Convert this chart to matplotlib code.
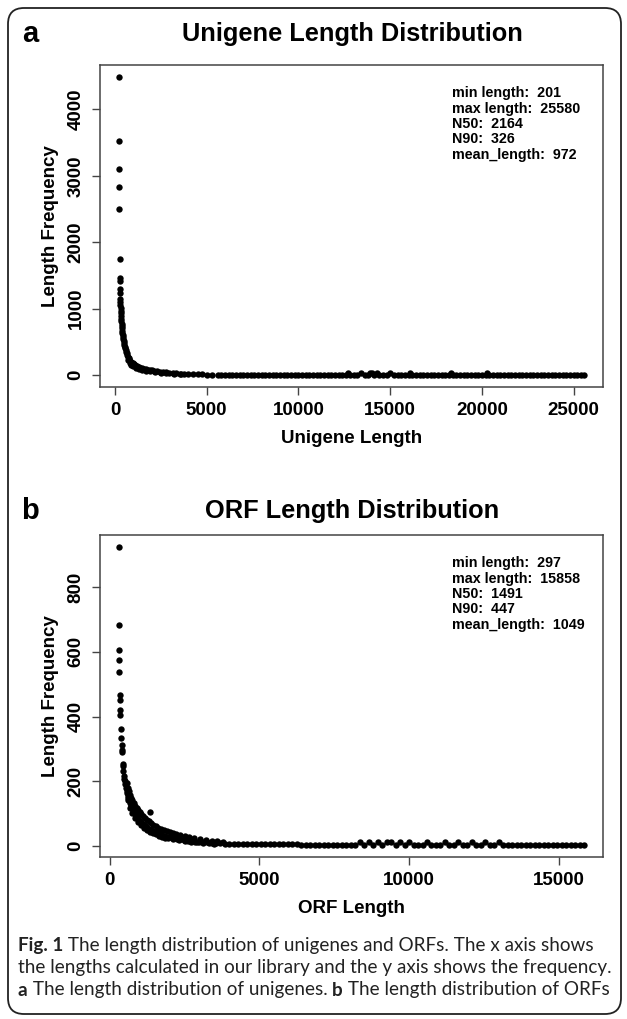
import matplotlib
matplotlib.use("Agg")
import matplotlib.pyplot as plt
from matplotlib.patches import FancyBboxPatch

plt.rcParams['font.family'] = ['Liberation Sans', 'DejaVu Sans']

# ---- panel a: unigene lengths (length, frequency)
uni_head_len = [201, 210, 218, 225, 232, 250, 262, 266, 272, 278,
                285, 292, 300, 308, 316, 324, 332, 340, 350, 360,
                370, 382, 395, 410, 425, 440, 458, 476, 495, 515,
                535, 558, 582, 608, 635, 665, 700, 740, 780, 825,
                870, 920, 975, 1030, 1090, 1150, 1220, 1300, 1390, 1480,
                1580, 1680, 1790, 1900, 2020, 2150, 2290, 2440, 2600, 2770,
                2950, 3140, 3340, 3550, 3770, 4000, 4250, 4500, 4750, 5000, 5300]
uni_head_freq = [4490, 3530, 3100, 2830, 2500, 1750, 1460, 1420, 1300, 1230,
                 1150, 1100, 1060, 1010, 970, 930, 890, 850, 810, 775,
                 740, 705, 670, 635, 600, 570, 540, 510, 480, 455,
                 430, 405, 380, 355, 330, 305, 280, 258, 238, 220,
                 204, 190, 176, 164, 152, 142, 132, 122, 113, 104,
                 96, 89, 82, 76, 70, 63, 57, 51, 46, 41,
                 36, 32, 28, 24, 21, 18, 15, 13, 11, 9, 8]
uni_band_len = [700, 800, 900, 1000, 1150, 1300, 1500, 1700, 1900, 2200, 2500, 2800, 3200, 3600]
uni_band_freq = [230, 190, 160, 135, 110, 95, 80, 65, 55, 42, 35, 28, 22, 16]
uni_tail_len = [5600, 5800, 6000, 6200, 6400, 6600, 6800, 7000, 7200, 7400,
                7600, 7800, 8000, 8200, 8400, 8600, 8800, 9000, 9200, 9400,
                9600, 9800, 10000, 10200, 10400, 10600, 10800, 11000, 11200, 11400,
                11600, 11800, 12000, 12200, 12400, 12600, 12700, 12800, 13000, 13200,
                13400, 13600, 13800, 13900, 14000, 14100, 14300, 14400, 14600, 14800,
                15000, 15200, 15400, 15600, 15800, 16000, 16100, 16200, 16400, 16600,
                16800, 17000, 17200, 17400, 17600, 17800, 18000, 18200, 18300, 18400,
                18600, 18800, 19000, 19200, 19400, 19600, 19800, 20000, 20200, 20300,
                20400, 20600, 20800, 21000, 21200, 21400, 21600, 21800, 22000, 22200,
                22400, 22600, 22800, 23000, 23200, 23400, 23600, 23800, 24000, 24200,
                24400, 24600, 24800, 25000, 25200, 25400, 25580]
uni_tail_freq = [7, 7, 6, 6, 6, 5, 5, 5, 5, 4,
                 4, 4, 4, 4, 4, 3, 3, 3, 3, 3,
                 3, 3, 3, 3, 3, 3, 3, 3, 2, 2,
                 2, 2, 2, 2, 2, 2, 25, 2, 2, 2,
                 30, 2, 2, 35, 30, 2, 38, 2, 2, 2,
                 25, 2, 2, 2, 2, 2, 28, 2, 2, 2,
                 2, 2, 2, 2, 2, 2, 2, 2, 30, 2,
                 2, 2, 2, 2, 1, 1, 1, 1, 1, 30,
                 1, 1, 1, 1, 1, 1, 1, 1, 1, 1,
                 1, 1, 1, 1, 1, 1, 1, 1, 1, 1,
                 1, 1, 1, 1, 1, 1, 1]
uni_stats = ['min length:  201', 'max length:  25580', 'N50:  2164', 'N90:  326',
             'mean_length:  972']

# ---- panel b: ORF lengths (length, frequency)
orf_head_len = [297, 300, 308, 314, 320, 335, 340, 352, 358, 372,
                385, 398, 405, 420, 430, 440, 455, 470, 485, 500,
                520, 540, 560, 580, 600, 625, 650, 680, 710, 740,
                770, 800, 840, 880, 920, 960, 1000, 1050, 1100, 1150,
                1200, 1260, 1320, 1347, 1380, 1450, 1520, 1600, 1680, 1760,
                1850, 1940, 2040, 2140, 2250, 2360, 2480, 2600, 2720, 2850,
                2980, 3120, 3260, 3400, 3550, 3700, 3850, 4000]
orf_head_freq = [925, 683, 606, 576, 537, 468, 451, 421, 406, 362,
                 332, 311, 295, 290, 253, 246, 230, 215, 206, 200,
                 190, 180, 170, 162, 155, 147, 140, 132, 124, 117,
                 111, 105, 99, 93, 87, 82, 78, 73, 68, 64,
                 60, 56, 52, 104, 48, 45, 42, 39, 36, 33,
                 31, 28, 26, 24, 22, 20, 18, 16, 15, 13,
                 12, 11, 10, 9, 8, 7, 6, 6]
orf_upper_len = [560, 600, 640, 680, 720, 760, 800, 850, 900, 950,
                 1000, 1060, 1120, 1180, 1240, 1300, 1380, 1460, 1540, 1620,
                 1700, 1800, 1900, 2000, 2100, 2200, 2350, 2500, 2650, 2800,
                 3000, 3200, 3400, 3600, 3800]
orf_upper_freq = [195, 180, 168, 158, 148, 140, 132, 124, 116, 110,
                  104, 98, 92, 86, 80, 76, 70, 65, 60, 56,
                  52, 48, 45, 42, 39, 36, 33, 30, 27, 24,
                  21, 18, 16, 14, 12]
orf_lower_len = [600, 680, 760, 850, 950, 1050, 1150, 1250, 1350, 1450,
                 1550, 1650, 1750, 1850, 1950, 2100, 2300, 2500, 2700, 2900,
                 3100, 3300, 3500]
orf_lower_freq = [140, 118, 100, 86, 74, 64, 56, 50, 44, 39,
                  35, 31, 28, 25, 23, 20, 17, 14, 12, 10,
                  8, 7, 6]
orf_tail_len = [4150, 4300, 4450, 4600, 4750, 4900, 5050, 5200, 5350, 5500,
                5650, 5800, 5950, 6100, 6250, 6400, 6550, 6700, 6850, 7000,
                7150, 7300, 7450, 7600, 7750, 7900, 8050, 8200, 8350, 8500,
                8650, 8800, 8950, 9100, 9250, 9400, 9550, 9700, 9850, 10000,
                10150, 10300, 10450, 10600, 10750, 10900, 11050, 11200, 11350, 11500,
                11650, 11800, 11950, 12100, 12250, 12400, 12550, 12700, 12850, 13000,
                13150, 13300, 13450, 13600, 13750, 13900, 14050, 14200, 14350, 14500,
                14650, 14800, 14950, 15100, 15250, 15400, 15550, 15700, 15858]
orf_tail_freq = [6, 6, 5, 5, 5, 5, 5, 4, 4, 4,
                 4, 4, 4, 4, 4, 3, 3, 3, 3, 3,
                 3, 3, 3, 3, 3, 3, 3, 3, 10, 3,
                 10, 3, 12, 3, 10, 12, 3, 10, 3, 10,
                 3, 2, 2, 10, 2, 2, 2, 10, 2, 2,
                 10, 2, 2, 10, 2, 2, 10, 2, 2, 10,
                 2, 2, 2, 2, 2, 2, 2, 2, 2, 2,
                 2, 2, 2, 2, 2, 2, 2, 2, 2]
orf_stats = ['min length:  297', 'max length:  15858', 'N50:  1491', 'N90:  447',
             'mean_length:  1049']

W, H = 627, 1019
fig = plt.figure(figsize=(W / 100, H / 100), dpi=100)

# rounded frame round the whole figure
frame = FancyBboxPatch((0.08, 0.05), 6.13, 10.06,
                       boxstyle="round,pad=0,rounding_size=0.16",
                       transform=fig.dpi_scale_trans, fill=False,
                       edgecolor='#222222', linewidth=1.3)
fig.patches.append(frame)


def r_lim(vals):
    lo, hi = min(vals), max(vals)
    pad = 0.04 * (hi - lo)
    return lo - pad, hi + pad


def panel(box, title_y, letter, title, xs, ys, xticks, yticks, xlabel, stats):
    left, top, right, bottom = box
    ax = fig.add_axes([left / W, 1 - bottom / H, (right - left) / W, (bottom - top) / H])
    ax.scatter(xs, ys, s=21, c='black', linewidths=0)
    ax.set_xlim(r_lim(xs))
    ax.set_ylim(r_lim(ys))
    ax.set_xticks(xticks)
    ax.set_yticks(yticks)
    ax.tick_params(direction='out', length=6, width=1, color='#444444',
                   labelsize=13.5, pad=5)
    ax.tick_params(axis='y', labelrotation=90)
    for lab in ax.get_xticklabels() + ax.get_yticklabels():
        lab.set_fontweight('bold')
    for lab in ax.get_yticklabels():
        lab.set_va('center')
    for sp in ax.spines.values():
        sp.set_color('#444444')
        sp.set_linewidth(1.1)
    ax.set_xlabel(xlabel, fontsize=13.5, fontweight='bold', labelpad=8)
    ax.set_ylabel('Length Frequency', fontsize=13.5, fontweight='bold', labelpad=6)
    for i, s in enumerate(stats):
        ax.text(0.70, 0.912 - i * 0.0475, s, transform=ax.transAxes, fontsize=10.3,
                fontweight='bold', va='center', ha='left')
    fig.text(30 / W, 1 - title_y / H, letter, fontsize=21, fontweight='bold',
             ha='center', va='center')
    fig.text(352 / W, 1 - title_y / H, title, fontsize=18.3, fontweight='bold',
             ha='center', va='center')
    return ax


panel((100, 65, 603, 387), 34, 'a', 'Unigene Length Distribution',
      uni_head_len + uni_band_len + uni_tail_len,
      uni_head_freq + uni_band_freq + uni_tail_freq,
      [0, 5000, 10000, 15000, 20000, 25000], [0, 1000, 2000, 3000, 4000],
      'Unigene Length', uni_stats)
panel((100, 535, 603, 857), 511, 'b', 'ORF Length Distribution',
      orf_head_len + orf_upper_len + orf_lower_len + orf_tail_len,
      orf_head_freq + orf_upper_freq + orf_lower_freq + orf_tail_freq,
      [0, 5000, 10000, 15000], [0, 200, 400, 600, 800], 'ORF Length', orf_stats)

# caption with bold pieces
renderer = fig.canvas.get_renderer()
cap_lines = [
    [('Fig. 1', 'bold'), (' The length distribution of unigenes and ORFs. The x axis shows', 'normal')],
    [('the lengths calculated in our library and the y axis shows the frequency.', 'normal')],
    [('a', 'bold'), (' The length distribution of unigenes. ', 'normal'), ('b', 'bold'),
     (' The length distribution of ORFs', 'normal')],
]
cap_y = [946, 968, 990]
for line, yy in zip(cap_lines, cap_y):
    x = 18
    for txt, wt in line:
        t = fig.text(x / W, 1 - yy / H, txt, fontsize=13.6, fontweight=wt,
                     family=['Lato', 'DejaVu Sans'], ha='left', va='center',
                     color='#222222')
        x += t.get_window_extent(renderer).width

fig.savefig('out.png', dpi=100)
